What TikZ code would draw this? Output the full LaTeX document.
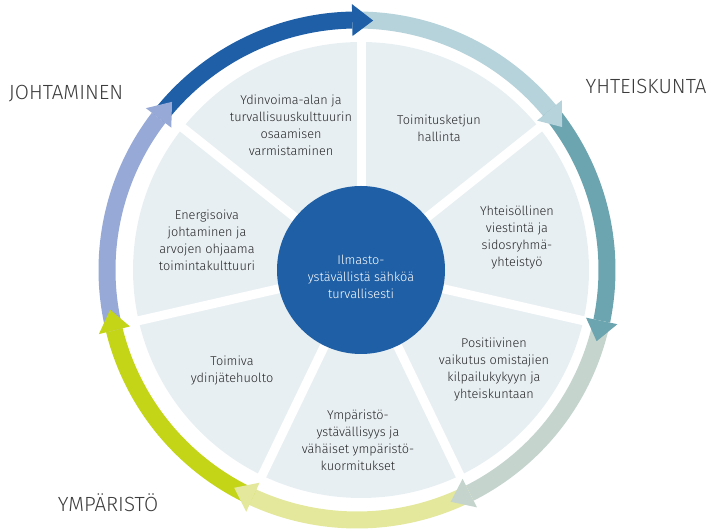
\documentclass[tikz,border=0pt]{standalone}
\usepackage{fontspec}
\setmainfont{Fira Sans}[UprightFont={* Light}]
\usetikzlibrary{calc}

\definecolor{ringA}{HTML}{1F5FA8}
\definecolor{ringB}{HTML}{B6D2DB}
\definecolor{ringC}{HTML}{6CA4B0}
\definecolor{ringD}{HTML}{C5D5CE}
\definecolor{ringE}{HTML}{E3E89C}
\definecolor{ringF}{HTML}{C4D417}
\definecolor{ringG}{HTML}{97A9D7}
\definecolor{sectorfill}{HTML}{E8EFF3}
\definecolor{hubblue}{HTML}{1F5FA6}
\definecolor{textgrey}{HTML}{262626}
\definecolor{labelgrey}{HTML}{3C3C3C}

\tikzset{
  sectortext/.style={align=center, text=textgrey, font=\fontsize{12.7}{17}\selectfont, inner sep=0pt},
  hubtext/.style={align=center, text=white, font=\fontsize{12.7}{17}\selectfont, inner sep=0pt},
  themelabel/.style={text=labelgrey, font=\fontsize{20.5}{24}\selectfont, inner sep=0pt},
  gapline/.style={white, line width=9pt},
  ringband/.style={line width=17pt}
}

\begin{document}
\begin{tikzpicture}[x=1pt, y=1pt]
  \useasboundingbox (0,0) rectangle (712,532);

  % seven sectors around the hub
  \coordinate (hub) at (361,262);
  \fill[sectorfill] (hub) circle[radius=228];
  \foreach \a in {90, 38.5714, -12.8571, -64.2857, -115.7143, -167.1429, 141.4286}
    \draw[gapline] (hub) -- ++(\a:234);

  % hub disk
  \fill[hubblue] (hub) circle[radius=84];
  \node[hubtext] (core) at (361,255) {Ilmasto-\\ystävällistä sähköä\\turvallisesti};

  % outer ring of arrows, clockwise
  \begin{scope}[shift={(357,262)}]
    \foreach \c [count=\k from 0] in {ringA,ringB,ringC,ringD,ringE,ringF,ringG} {
      \pgfmathsetmacro\tip{86.3-51.4286*\k}
      \pgfmathsetmacro\base{\tip+4.8}
      \pgfmathsetmacro\start{\tip+56.2}
      \draw[ringband, \c] (\start:250) arc[start angle=\start, end angle=\base, radius=250];
    }
    \foreach \c [count=\k from 0] in {ringA,ringB,ringC,ringD,ringE,ringF,ringG} {
      \pgfmathsetmacro\tip{86.3-51.4286*\k}
      \pgfmathsetmacro\base{\tip+4.8}
      \fill[\c] (\tip:250) -- (\base:266) -- (\base:234) -- cycle;
    }
  \end{scope}

  % sector texts
  \node[sectortext] (s1) at (291,407) {Ydinvoima-alan ja\\turvallisuuskulttuurin\\osaamisen\\varmistaminen};
  \node[sectortext] (s2) at (439,404) {Toimitusketjun\\hallinta};
  \node[sectortext] (s3) at (517,294) {Yhteisöllinen\\viestintä ja\\sidosryhmä-\\yhteistyö};
  \node[sectortext] (s4) at (494,162) {Positiivinen\\vaikutus omistajien\\kilpailukykyyn ja\\yhteiskuntaan};
  \node[sectortext] (s5) at (358,92) {Ympäristö-\\ystävällisyys ja\\vähäiset ympäristö-\\kuormitukset};
  \node[sectortext] (s6) at (232,161) {Toimiva\\ydinjätehuolto};
  \node[sectortext] (s7) at (207,292) {Energisoiva\\johtaminen ja\\arvojen ohjaama\\toimintakulttuuri};

  % theme labels
  \node[themelabel] (lead) at (66,438) {JOHTAMINEN};
  \node[themelabel] (society) at (646,446) {YHTEISKUNTA};
  \node[themelabel] (environment) at (108,29) {YMPÄRISTÖ};
\end{tikzpicture}
\end{document}
